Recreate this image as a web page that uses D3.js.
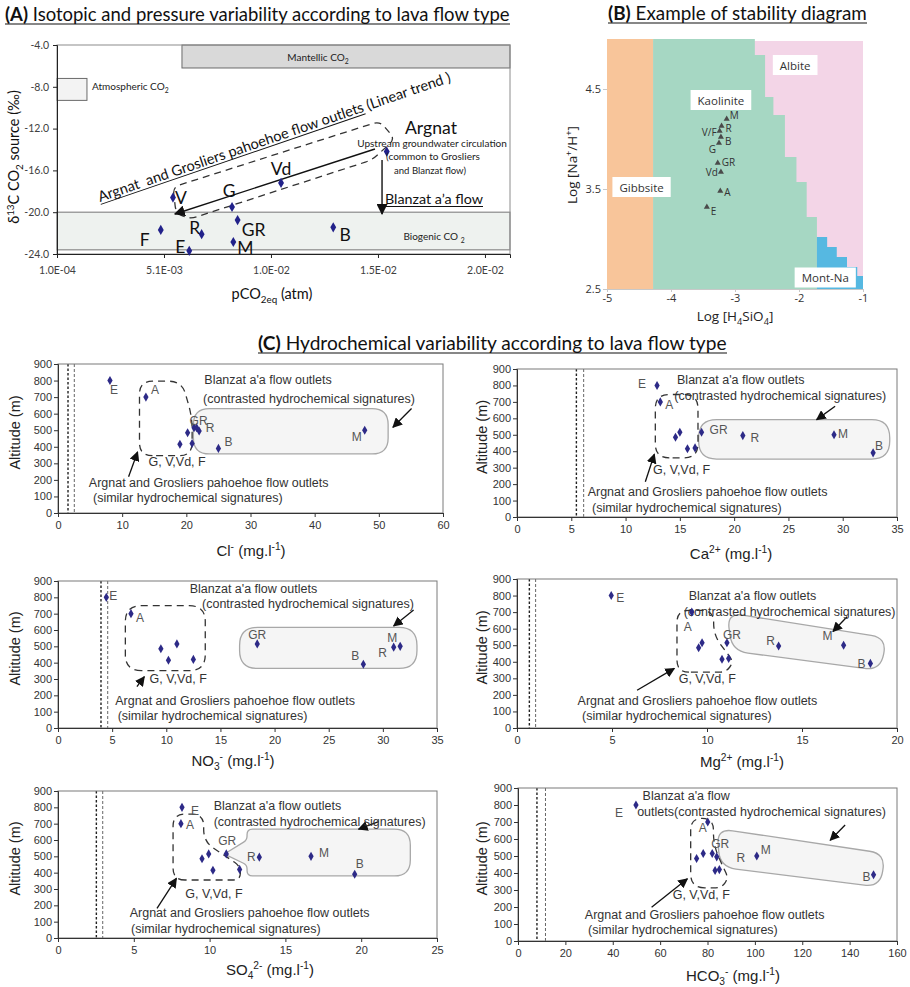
<!DOCTYPE html>
<html><head><meta charset="utf-8"><title>Lava flow hydrochemistry</title>
<script src="https://cdn.jsdelivr.net/npm/d3@7/dist/d3.min.js"></script>
<style>html,body{margin:0;padding:0;background:#fff}</style>
</head><body>
<script>
// ================= DATA =================
// Panel A : d13C of CO2 source vs pCO2eq
const springsA   = ["V","G","Vd","Argnat","GR","R","F","E","M","B"];
const pco2Eq     = [0.00552,0.00828,0.01057,0.01551,0.00854,0.00686,0.00495,0.00628,0.00834,0.01301];
const d13cSource = [-18.6,-19.5,-17.2,-14.2,-20.75,-22.1,-21.7,-23.7,-22.85,-21.45];
const pco2Ticks  = [0.0001,0.0051,0.0101,0.0151,0.0201];
const pco2TickLabels = ["1.0E-04","5.1E-03","1.0E-02","1.5E-02","2.0E-02"];
const d13cTicks  = [-4,-8,-12,-16,-20,-24];
const mantellicCO2   = {pco2:[0.00594,0.02127], d13c:[-4,-6.2]};
const atmosphericCO2 = {pco2:[0.0001,0.0015],   d13c:[-7.2,-9.3]};
const biogenicCO2    = {d13c:[-20,-23.6]};

// Panel B : stability diagram
const springsB  = ["M","R","V/F","B","G","GR","Vd","A","E"];
const logH4SiO4 = [-3.13,-3.21,-3.24,-3.22,-3.25,-3.27,-3.22,-3.23,-3.44];
const logNaH    = [4.20,4.13,4.08,4.02,3.96,3.76,3.67,3.48,3.32];
const siTicks   = [-5,-4,-3,-2,-1];
const naTicks   = [2.5,3.5,4.5];
const gibbsiteLimit = -4.28;
const kaoliniteAlbite = [[-2.69,5.0],[-2.69,4.84],[-2.53,4.84],[-2.53,4.42],[-2.40,4.42],[-2.40,4.24],[-2.22,4.24],[-2.22,3.82],[-2.04,3.82],[-2.04,3.57],[-1.88,3.57],[-1.88,3.22],[-1.72,3.22],[-1.72,2.5]];
const montNa = [[-1.72,2.5],[-1.72,3.02],[-1.56,3.02],[-1.56,2.92],[-1.41,2.92],[-1.41,2.82],[-1.25,2.82],[-1.25,2.72],[-1.09,2.72],[-1.09,2.63],[-1.0,2.63],[-1.0,2.5]];

// Panel C : altitude vs major ions  (order of springsC)
const springsC    = ["E","A","G","V","Vd","F","GR","R","M","B"];
const altitude    = [800,700,485,515,415,420,515,495,500,390];
const chloride    = [8.1,13.7,20.2,21.2,19.0,20.9,21.6,22.0,47.8,25.0];
const calcium     = [12.9,13.2,14.6,15.0,15.7,16.4,17.0,20.8,29.2,32.8];
const nitrate     = [4.46,6.74,9.5,10.98,10.2,12.5,18.4,31.0,31.6,28.2];
const magnesium   = [4.96,9.2,9.56,9.74,10.79,11.14,11.05,13.77,17.19,18.6];
const sulfate     = [8.18,8.11,9.5,9.94,10.22,11.98,11.1,13.28,16.69,19.57];
const bicarbonate = [49.8,80.1,75.4,78.2,83.2,85.0,82.0,83.9,100.8,150.1];
const clLimits = [1.56,2.54], caLimits = [5.47,6.14], no3Limits = [3.97,4.59];
const mgLimits = [0.65,0.98], so4Limits = [2.53,2.95], hco3Limits = [8.0,11.6];
const altTicks = [0,100,200,300,400,500,600,700,800,900];

// ================= HELPERS =================
const FA = "Lato, 'Open Sans', sans-serif";
const FB = "'Open Sans', Lato, sans-serif";
const FC = "'Liberation Sans', Arial, sans-serif";
const svg = d3.select("body").append("svg").attr("width",910).attr("height",987);
const defs = svg.append("defs");
function marker(id,size){
  defs.append("marker").attr("id",id).attr("viewBox","0 0 10 10").attr("refX",9).attr("refY",5)
    .attr("markerWidth",size).attr("markerHeight",size).attr("markerUnits","userSpaceOnUse").attr("orient","auto")
    .append("path").attr("d","M0,0L10,5L0,10Z").attr("fill","#111");
}
marker("ahA",11); marker("ahC",10);

function rich(g, parts, fs, attrs){
  const t = g.append("text").attr("font-size",fs);
  for (const k in attrs) t.attr(k, attrs[k]);
  let cur = 0;
  parts.forEach(p=>{
    const [s,m] = Array.isArray(p)? p : [p,""];
    const target = m==="sup" ? -0.38*fs : m==="sub" ? 0.28*fs : 0;
    const ts = t.append("tspan").text(s);
    if (target-cur !== 0) ts.attr("dy", target-cur);
    if (m) ts.attr("font-size", fs*0.68);
    cur = target;
  });
  return t;
}
function fit(t, w){
  const cw = t.node().getComputedTextLength();
  t.attr("font-size", parseFloat(t.attr("font-size"))*w/cw);
  return t;
}
function roundedPath(pts, r){
  const n = pts.length; let d = "";
  for (let i=0;i<n;i++){
    const p0 = pts[(i-1+n)%n], p1 = pts[i], p2 = pts[(i+1)%n];
    const rad = p1[2]!==undefined ? p1[2] : r;
    const v1=[p0[0]-p1[0],p0[1]-p1[1]], v2=[p2[0]-p1[0],p2[1]-p1[1]];
    const l1=Math.hypot(v1[0],v1[1]), l2=Math.hypot(v2[0],v2[1]);
    const rr=Math.min(rad,l1/2,l2/2);
    const a=[p1[0]+v1[0]/l1*rr,p1[1]+v1[1]/l1*rr], b=[p1[0]+v2[0]/l2*rr,p1[1]+v2[1]/l2*rr];
    d += (i===0?"M":"L")+a[0]+","+a[1]+"Q"+p1[0]+","+p1[1]+" "+b[0]+","+b[1];
  }
  return d+"Z";
}
function title(x, y, bold, rest, width){
  const t = svg.append("text").attr("x",x).attr("y",y).attr("font-family",FA).attr("font-size",18).attr("fill","#111");
  t.append("tspan").attr("font-weight","bold").text(bold);
  t.append("tspan").text(rest);
  fit(t,width);
  svg.append("line").attr("x1",x).attr("x2",x+width).attr("y1",y+3).attr("y2",y+3).attr("stroke","#111").attr("stroke-width",1.2);
}

// ================= TITLES =================
title(5, 21, "(A)", " Isotopic and pressure variability according to lava flow type", 505);
title(608, 20, "(B)", " Example of stability diagram", 259);
title(258, 350, "(C)", " Hydrochemical variability according to lava flow type", 469);

// ================= PANEL A =================
(function(){
  const x = d3.scaleLinear().domain([0.0001,0.02127]).range([57,510]);
  const y = d3.scaleLinear().domain([-4,-24]).range([45,254]);
  const g = svg.append("g").attr("font-family",FA);
  g.append("rect").attr("x",x(0.0001)).attr("width",x(0.02127)-x(0.0001))
    .attr("y",y(biogenicCO2.d13c[0])).attr("height",y(biogenicCO2.d13c[1])-y(biogenicCO2.d13c[0]))
    .attr("fill","#eef2ef").attr("stroke","#8a8a8a").attr("stroke-width",1.2);
  g.append("rect").attr("x",x(mantellicCO2.pco2[0])).attr("width",x(mantellicCO2.pco2[1])-x(mantellicCO2.pco2[0]))
    .attr("y",y(mantellicCO2.d13c[0])).attr("height",y(mantellicCO2.d13c[1])-y(mantellicCO2.d13c[0]))
    .attr("fill","#d9d9d9").attr("stroke","#6a6a6a");
  g.append("rect").attr("x",x(atmosphericCO2.pco2[0])).attr("width",x(atmosphericCO2.pco2[1])-x(atmosphericCO2.pco2[0]))
    .attr("y",y(atmosphericCO2.d13c[0])).attr("height",y(atmosphericCO2.d13c[1])-y(atmosphericCO2.d13c[0]))
    .attr("fill","#f3f3f3").attr("stroke","#6a6a6a");
  g.append("rect").attr("x",57).attr("y",45).attr("width",453).attr("height",209).attr("fill","none").attr("stroke","#8c8c8c");
  const ya = g.append("g").attr("transform","translate(57,0)").call(d3.axisLeft(y).tickValues(d13cTicks).tickFormat(d=>d.toFixed(1)).tickSize(4).tickPadding(4));
  const xa = g.append("g").attr("transform","translate(0,254)").call(d3.axisBottom(x).tickValues(pco2Ticks).tickFormat((d,i)=>pco2TickLabels[i]).tickSize(4).tickPadding(9));
  [ya,xa].forEach(a=>{a.selectAll("text").attr("font-size",10.5).attr("fill","#404040").attr("font-family",FA);a.selectAll("path,line").attr("stroke","#222");});

  rich(g,["Mantellic CO",["2","sub"]],10,{x:318,y:61,"text-anchor":"middle",fill:"#222"});
  rich(g,["Atmospheric CO",["2","sub"]],10,{x:92,y:90,fill:"#222"});
  rich(g,["Biogenic CO ",["2","sub"]],10,{x:434,y:240,"text-anchor":"middle",fill:"#222"});

  const env = [[0.00552,-17.59],[0.01519,-11.3],[0.01589,-13.0],[0.01482,-15.0],[0.00631,-20.65],[0.00566,-20.08]];
  g.append("path").attr("d",roundedPath(env.map(d=>[x(d[0]),y(d[1])]),7)).attr("fill","none")
    .attr("stroke","#333").attr("stroke-width",1.3).attr("stroke-dasharray","7,5");
  g.append("line").attr("x1",x(0.01496)).attr("y1",y(-13.95)).attr("x2",x(0.00561)).attr("y2",y(-20.17))
    .attr("stroke","#111").attr("stroke-width",1.4).attr("marker-end","url(#ahA)");
  g.append("line").attr("x1",x(0.01529)).attr("y1",y(-15.0)).attr("x2",x(0.01529)).attr("y2",y(-20.17))
    .attr("stroke","#111").attr("stroke-width",1.4).attr("marker-end","url(#ahA)");

  const lab = {V:[8,0],G:[-3,-16],Vd:[0,-14],GR:[16,9],R:[-7,-7],F:[-16,10],E:[-9,-4],M:[12,6],B:[12,7]};
  springsA.forEach((s,i)=>{
    g.append("path").attr("d",d3.symbol(d3.symbolDiamond,30)()).attr("transform",`translate(${x(pco2Eq[i])},${y(d13cSource[i])})`).attr("fill","#22228a");
    if (lab[s]) g.append("text").attr("x",x(pco2Eq[i])+lab[s][0]).attr("y",y(d13cSource[i])+lab[s][1])
      .attr("text-anchor","middle").attr("dominant-baseline","central").attr("font-size",17.5).attr("fill","#111").text(s);
  });

  fit(g.append("text").attr("x",405).attr("y",134).attr("font-size",20).attr("fill","#111").text("Argnat"),52);
  fit(g.append("text").attr("x",432).attr("y",147).attr("text-anchor","middle").attr("font-size",10.5).attr("fill","#222").text("Upstream groundwater circulation"),150);
  fit(g.append("text").attr("x",433).attr("y",160).attr("text-anchor","middle").attr("font-size",10.5).attr("fill","#222").text("(common to Grosliers"),94);
  fit(g.append("text").attr("x",430).attr("y",174).attr("text-anchor","middle").attr("font-size",10.5).attr("fill","#222").text("and Blanzat flow)"),72);
  fit(g.append("text").attr("x",385).attr("y",204).attr("font-size",15).attr("fill","#111").text("Blanzat a\u2019a flow"),98);
  g.append("line").attr("x1",385).attr("x2",483).attr("y1",206.5).attr("y2",206.5).attr("stroke","#111");

  const dg = g.append("g").attr("transform","translate(100,202) rotate(-18.9)");
  const dt = dg.append("text").attr("font-size",15).attr("fill","#111").style("white-space","pre");
  const part1 = "Argnat  and Grosliers pahoehoe flow outlets";
  dt.append("tspan").text(part1); dt.append("tspan").text(" (Linear trend )");
  fit(dt,372);
  const ul = dt.node().getSubStringLength(0,part1.length);
  dg.append("line").attr("x1",0).attr("x2",ul).attr("y1",2.5).attr("y2",2.5).attr("stroke","#111");

  rich(g,["\u03b4",["13","sup"],"C CO",["2","sub"]," source (\u2030)"],14.5,{transform:"translate(19,157) rotate(-90)","text-anchor":"middle",fill:"#111"});
  rich(g,["pCO",["2eq","sub"]," (atm)"],14.5,{x:272,y:299,"text-anchor":"middle",fill:"#111"});
})();

// ================= PANEL B =================
(function(){
  const x = d3.scaleLinear().domain([-5,-1]).range([607,863]);
  const y = d3.scaleLinear().domain([2.5,5.0]).range([289,39]);
  const g = svg.append("g").attr("font-family",FB);
  const line = d3.line().x(d=>x(d[0])).y(d=>y(d[1]));
  g.append("rect").attr("x",x(gibbsiteLimit)).attr("y",y(5)+2).attr("width",x(-1)-x(gibbsiteLimit)).attr("height",y(2.5)-y(5)-2).attr("fill","#f3d5e7");
  g.append("rect").attr("x",x(-5)).attr("y",y(5)).attr("width",x(gibbsiteLimit)-x(-5)).attr("height",y(2.5)-y(5)).attr("fill","#f8c59a");
  g.append("path").attr("d",line([[gibbsiteLimit,5.0],...kaoliniteAlbite,[gibbsiteLimit,2.5]])+"Z").attr("fill","#a6d7c3");
  g.append("path").attr("d",line(montNa)+"Z").attr("fill","#56b8e1");
  const xa = g.append("g").attr("transform",`translate(0,${y(2.5)})`).call(d3.axisBottom(x).tickValues(siTicks).tickFormat(d=>String(d)).tickSize(3).tickPadding(2));
  const ya = g.append("g").attr("transform",`translate(${x(-5)},0)`).call(d3.axisLeft(y).tickValues(naTicks).tickFormat(d3.format(".1f")).tickSize(4).tickPadding(2));
  ya.select(".domain").remove();
  [xa,ya].forEach(a=>{a.selectAll("text").attr("font-size",11).attr("fill","#333").attr("font-family",FB);a.selectAll("path,line").attr("stroke","#c8c8c8");});

  const boxes = [["Albite",-2.06,4.74],["Kaolinite",-3.22,4.39],["Gibbsite",-4.46,3.52],["Mont-Na",-1.59,2.615]];
  boxes.forEach(([t,bx,by])=>{
    const rect = g.append("rect").attr("fill","#fff");
    const tt = g.append("text").attr("x",x(bx)).attr("y",y(by)).attr("text-anchor","middle").attr("dominant-baseline","central").attr("font-size",11.5).attr("fill","#333").text(t);
    const w = tt.node().getComputedTextLength()+14;
    rect.attr("x",x(bx)-w/2).attr("y",y(by)-10).attr("width",w).attr("height",20);
  });
  const lab = {"M":[3,-4,"start"],"R":[4,2,"start"],"V/F":[-3,1,"end"],"B":[4,4,"start"],"G":[-3,6,"end"],"GR":[4,-1,"start"],"Vd":[-3,0,"end"],"A":[4,1,"start"],"E":[4,4,"start"]};
  springsB.forEach((s,i)=>{
    g.append("path").attr("d",d3.symbol(d3.symbolTriangle,16)()).attr("transform",`translate(${x(logH4SiO4[i])},${y(logNaH[i])})`).attr("fill","#4a4a4a");
    const l = lab[s];
    g.append("text").attr("x",x(logH4SiO4[i])+l[0]).attr("y",y(logNaH[i])+l[1]).attr("text-anchor",l[2]).attr("dominant-baseline","central")
      .attr("font-size",10).attr("fill","#333").text(s);
  });
  rich(g,["Log [Na",["+","sup"],"/H",["+","sup"],"]"],13.5,{transform:"translate(577,165) rotate(-90)","text-anchor":"middle",fill:"#222"});
  rich(g,["Log [H",["4","sub"],"SiO",["4","sub"],"]"],13.5,{x:735,y:321,"text-anchor":"middle",fill:"#222"});
})();

// ================= PANEL C =================
const blz = ["Blanzat a'a flow outlets","(contrasted hydrochemical signatures)"];
const cPlots = [
 {vals:chloride, xmax:60, step:10, limits:clLimits, box:[58,443,364,513], ytx:15, xt:[251,556],
  xl:["Cl",["-","sup"]," (mg.l",["-1","sup"],")"],
  dash:[[12.7,346],[12.7,796],[19.3,796],[20.9,580],[20.9,346]], dashR:13,
  grp:[14.1,281], ar1:[[11.0,219],[12.4,369]], arg:[[4.8,157],[5.45,65]],
  gray:[[21.1,357],[21.1,631],[51.45,631],[51.45,357]], grayR:16,
  blz:[[22.8,781],[22.6,666]], blzT:blz, ar2:[[55.1,631],[52.2,518]],
  lab:{E:[4,9],A:[9,-7],GR:[2,-7],R:[11,-3],B:[10,-6],M:[-8,7]}},
 {vals:calcium, xmax:35, step:5, limits:caLimits, box:[517,897,369,517], ytx:482, xt:[731,559],
  xl:["Ca",["2+","sup"]," (mg.l",["-1","sup"],")"],
  dash:[[12.74,360],[12.74,745],[16.67,745],[16.67,360]], dashR:14,
  grp:[12.53,259], ar1:[[11.82,214],[12.65,382]], arg:[[6.51,129],[6.91,32]],
  gray:[[16.73,352],[16.73,592],[34.33,592],[34.33,352]], grayR:18,
  blz:[[14.74,810],[14.49,713]], blzT:blz, ar2:[[29.3,673],[27.6,592]],
  lab:{E:[-15,-1],A:[9,3],GR:[17,-2],R:[12,2],M:[9,-1],B:[6,-7]}},
 {vals:nitrate, xmax:35, step:5, limits:no3Limits, box:[58,437,581,728], ytx:15, xt:[233,766],
  xl:["NO",["3","sub"],["-","sup"]," (mg.l",["-1","sup"],")"],
  dash:[[6.22,351],[6.22,749],[13.6,749],[13.6,351]], dashR:16,
  grp:[8.46,278], ar1:[[7.29,253],[7.97,314]], arg:[[5.29,141],[5.51,49]],
  gray:[[16.77,365],[16.77,616],[33.15,616],[33.15,365]], grayR:18,
  blz:[[12.16,828],[13.3,733]], blzT:blz, ar2:[[32.84,722],[31.0,625]],
  lab:{E:[7,-1],A:[9,4],GR:[0,-9],B:[-8,-8],R:[-11,6],M:[-8,-8]}},
 {vals:magnesium, xmax:20, step:5, limits:mgLimits, box:[517,897,579,728], ytx:482, xt:[742,767],
  xl:["Mg",["2+","sup"]," (mg.l",["-1","sup"],")"],
  dash:[[8.42,337],[8.42,711],[10.35,711],[10.35,560],[11.4,400],[11.0,337]], dashR:12,
  grp:[8.51,272], ar1:[[6.32,228],[8.28,360]], arg:[[3.19,140],[3.42,51]],
  gray:[[11.05,697],[19.47,544],[19.12,347],[11.32,465]], grayR:16,
  blz:[[9.04,776],[8.77,678]], blzT:blz, ar2:[[17.37,672],[16.63,583]],
  lab:{E:[9,2],A:[-4,15],GR:[5,-8],R:[-8,-5],M:[-16,-9],B:[-9,1]}},
 {vals:sulfate, xmax:25, step:5, limits:so4Limits, box:[58,437,791,938], ytx:15, xt:[270,975],
  xl:["SO",["4","sub"],["2-","sup"]," (mg.l",["-1","sup"],")"],
  dash:[[7.59,355],[7.59,759],[9.61,759],[9.61,590],[12.03,440],[12.03,355]], dashR:12,
  grp:[8.4,243], ar1:[[6.53,182],[7.81,365]], arg:[[4.73,131],[4.82,33]],
  gray:[[12.47,380],[12.47,447,4],[10.97,514,2],[12.47,600,4],[12.47,667],[23.24,667],[23.24,380]], grayR:16,
  blz:[[10.27,784],[10.27,686]], blzT:blz, ar2:[[21.15,712],[19.83,667]],
  lab:{E:[13,4],A:[9,1],GR:[1,-13],R:[-8,0],M:[13,-3],B:[5,-10]}},
 {vals:bicarbonate, xmax:160, step:20, limits:hco3Limits, box:[518,897,788,941], ytx:482, xt:[733,981],
  xl:["HCO",["3","sub"],["-","sup"]," (mg.l",["-1","sup"],")"],
  dash:[[72.9,313],[72.9,721],[82.5,721],[82.5,560],[88.8,370],[86,313]], dashR:14,
  grp:[65.3,248], ar1:[[56.4,199],[71.5,366]], arg:[[28.2,130],[29.6,41]],
  gray:[[83.9,662],[155.1,514],[152.9,317],[85.3,435]], grayR:16,
  blz:[[52.6,830],[50.3,735]], blzT:["Blanzat a'a flow","outlets(contrasted hydrochemical signatures)"], ar2:[[138.1,682],[131.8,593]],
  lab:{E:[-17,8],A:[-5,6],GR:[8,-9],R:[24,1],M:[9,-6],B:[-7,2]}}
];

function drawC(p){
  const [bx0,bx1,byT,byB] = p.box;
  const x = d3.scaleLinear().domain([0,p.xmax]).range([bx0,bx1]);
  const y = d3.scaleLinear().domain([0,900]).range([byB,byT]);
  const P = d=>[x(d[0]),y(d[1]),d[2]];
  const g = svg.append("g").attr("font-family",FC);
  g.append("path").attr("d",roundedPath(p.gray.map(P),p.grayR)).attr("fill","#f5f5f5").attr("stroke","#a8a8a8").attr("stroke-width",1.3);
  p.limits.forEach((v,i)=>g.append("line").attr("x1",x(v)).attr("x2",x(v)).attr("y1",byT).attr("y2",byB)
    .attr("stroke",i?"#666":"#222").attr("stroke-width",i?1:1.4).attr("stroke-dasharray",i?"3,2":"2.5,2"));
  g.append("rect").attr("x",bx0).attr("y",byT).attr("width",bx1-bx0).attr("height",byB-byT).attr("fill","none").attr("stroke","#7a7a7a");
  const ya = g.append("g").attr("transform",`translate(${bx0},0)`).call(d3.axisLeft(y).tickValues(altTicks).tickSize(4).tickPadding(2));
  const xa = g.append("g").attr("transform",`translate(0,${byB})`).call(d3.axisBottom(x).tickValues(d3.range(0,p.xmax+1e-9,p.step)).tickSize(4).tickPadding(4));
  [ya,xa].forEach(a=>{a.selectAll("text").attr("font-size",11).attr("fill","#333").attr("font-family",FC);a.selectAll("path,line").attr("stroke","#333");});
  g.append("path").attr("d",roundedPath(p.dash.map(P),p.dashR)).attr("fill","none").attr("stroke","#333").attr("stroke-width",1.3).attr("stroke-dasharray","7,5");
  [p.ar1,p.ar2].forEach(a=>g.append("line").attr("x1",x(a[0][0])).attr("y1",y(a[0][1])).attr("x2",x(a[1][0])).attr("y2",y(a[1][1]))
    .attr("stroke","#111").attr("stroke-width",1.3).attr("marker-end","url(#ahC)"));
  const T = (pos,s)=>g.append("text").attr("x",x(pos[0])).attr("y",y(pos[1])).attr("font-size",12.5).attr("fill","#333").text(s);
  T(p.grp,"G, V,Vd, F");
  T(p.arg[0],"Argnat and Grosliers pahoehoe flow outlets");
  T(p.arg[1],"(similar hydrochemical signatures)");
  T(p.blz[0],p.blzT[0]); T(p.blz[1],p.blzT[1]);
  springsC.forEach((s,i)=>{
    const px = x(p.vals[i]), py = y(altitude[i]);
    g.append("path").attr("d",d3.symbol(d3.symbolDiamond,24)()).attr("transform",`translate(${px},${py})`).attr("fill","#2d2a87");
    if (p.lab[s]) g.append("text").attr("x",px+p.lab[s][0]).attr("y",py+p.lab[s][1]).attr("text-anchor","middle").attr("dominant-baseline","central")
      .attr("font-size",12).attr("fill","#555").text(s);
  });
  g.append("text").attr("transform",`translate(${p.ytx+5},${(byT+byB)/2-6}) rotate(-90)`).attr("text-anchor","middle").attr("font-size",14.5).attr("fill","#222").text("Altitude (m)");
  rich(g,p.xl,15,{x:p.xt[0],y:p.xt[1],"text-anchor":"middle",fill:"#222"});
}
cPlots.forEach(drawC);
</script>
</body></html>
